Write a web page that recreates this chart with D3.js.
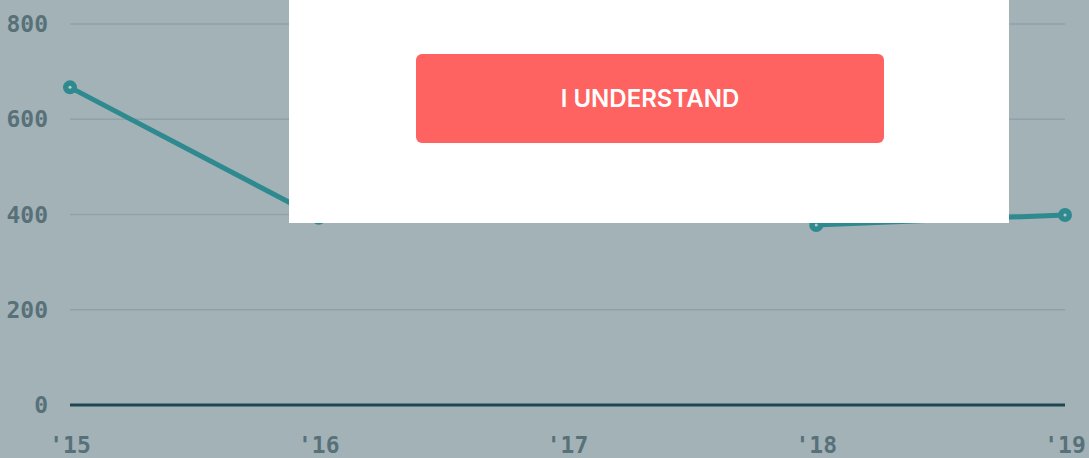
<!DOCTYPE html>
<html>
<head>
<meta charset="utf-8">
<script src="https://cdn.jsdelivr.net/npm/d3@7"></script>
<style>
  html, body { margin: 0; padding: 0; background: #a3b2b7; overflow: hidden; }
  #chart { position: absolute; left: 0; top: 0; }
  .tick-label { font-family: "DejaVu Sans Mono", monospace; font-weight: bold; font-size: 23px; fill: #587179; }
  #consent { position: absolute; left: 289px; top: 0; width: 720px; height: 223px; background: #fff; }
  #consent button {
    position: absolute; left: 127px; top: 54px; width: 468px; height: 89px;
    background: #ff6361; border: none; border-radius: 6px; color: #fff;
    font-family: Inter, "Noto Sans", sans-serif; font-weight: 600; font-size: 24px;
  }
</style>
</head>
<body>
<svg id="chart" width="1089" height="458"></svg>
<div id="consent"><button>I UNDERSTAND</button></div>
<script>
// ----------------------------------------------------------------------------
// Data ('17 is hidden behind the banner,
// its segments never show below it, so it must sit high)
// ----------------------------------------------------------------------------
var years = ["'15", "'16", "'17", "'18", "'19"];
var values = [667, 393, 740, 378, 399];
var yTicks = [0, 200, 400, 600, 800];

// ----------------------------------------------------------------------------
// Chart
// ----------------------------------------------------------------------------
function drawChart() {
    var svg = d3.select("#chart");

    var x = d3.scalePoint().domain(years).range([70, 1065]);
    var y = d3.scaleLinear().domain([0, 800]).range([405, 24]);

    // gridlines
    svg.append("g")
        .selectAll("line")
        .data(yTicks.filter(function(d) { return d > 0; }))
        .enter().append("line")
        .attr("x1", 70).attr("x2", 1065)
        .attr("y1", function(d) { return y(d); })
        .attr("y2", function(d) { return y(d); })
        .attr("stroke", "#8fa2a8")
        .attr("stroke-width", 1.5);

    // zero baseline
    svg.append("line")
        .attr("x1", 70).attr("x2", 1065)
        .attr("y1", y(0)).attr("y2", y(0))
        .attr("stroke", "#1f4752")
        .attr("stroke-width", 3);

    // y labels
    svg.append("g")
        .selectAll("text")
        .data(yTicks)
        .enter().append("text")
        .attr("class", "tick-label")
        .attr("x", 48)
        .attr("y", function(d) { return y(d); })
        .attr("dy", "0.35em")
        .attr("text-anchor", "end")
        .text(function(d) { return d; });

    // x labels
    svg.append("g")
        .selectAll("text")
        .data(years)
        .enter().append("text")
        .attr("class", "tick-label")
        .attr("x", function(d) { return x(d); })
        .attr("y", 453)
        .attr("text-anchor", "middle")
        .text(function(d) { return d; });

    var line = d3.line()
        .x(function(d, i) { return x(years[i]); })
        .y(function(d) { return y(d); });

    svg.append("path")
        .datum(values)
        .attr("d", line)
        .attr("fill", "none")
        .attr("stroke", "#2f8a8f")
        .attr("stroke-width", 5);

    var pts = svg.append("g")
        .selectAll("g")
        .data(values)
        .enter().append("g")
        .attr("transform", function(d, i) { return "translate(" + x(years[i]) + "," + y(d) + ")"; });

    pts.append("circle").attr("r", 7).attr("fill", "#2f8a8f");
    pts.append("circle").attr("r", 1.5).attr("fill", "#b8c8ca");
}

drawChart();
</script>
</body>
</html>
